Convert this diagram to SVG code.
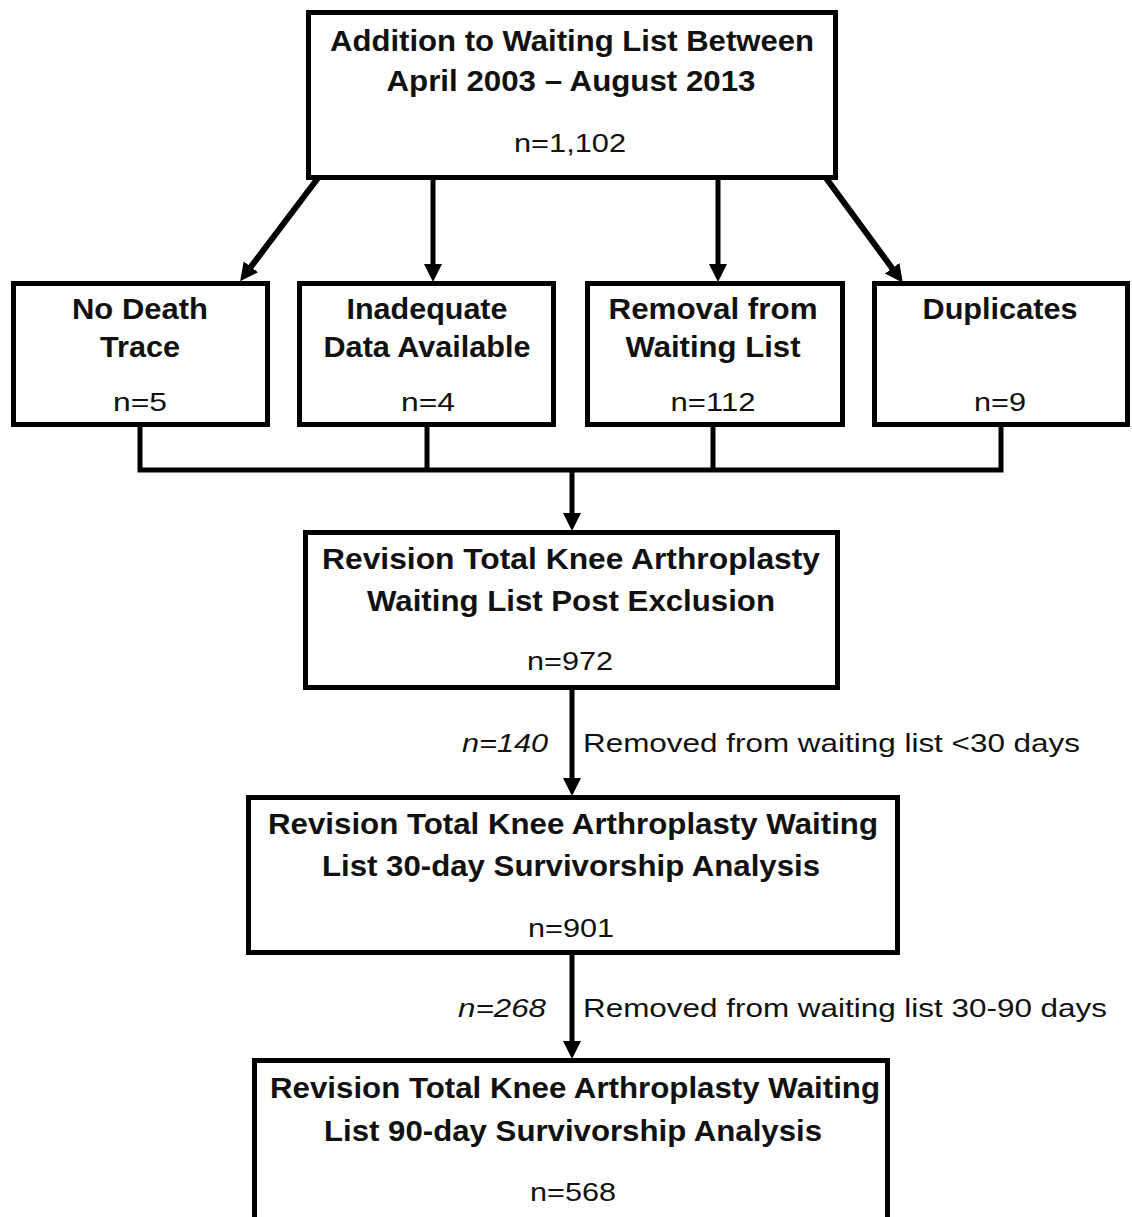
<svg xmlns="http://www.w3.org/2000/svg" width="1132" height="1217" viewBox="0 0 1132 1217">
  <style>
    .box { fill: #ffffff; stroke: #000000; stroke-width: 5; }
    .conn { fill: none; stroke: #000000; stroke-width: 5; stroke-linejoin: miter; }
    .diag { stroke-width: 6; }
    .b { font-family: "Liberation Sans", Arial, sans-serif; font-weight: bold; font-size: 29px; fill: #111111; text-anchor: middle; }
    .r { font-family: "Liberation Sans", Arial, sans-serif; font-size: 26px; fill: #111111; text-anchor: middle; }
    .lbl { font-family: "Liberation Sans", Arial, sans-serif; font-size: 26px; fill: #111111; }
    .it { font-family: "Liberation Sans", Arial, sans-serif; font-size: 26px; font-style: italic; fill: #111111; text-anchor: end; }
  </style>
  <defs>
    <marker id="arrow" markerUnits="userSpaceOnUse" markerWidth="20" markerHeight="20" refX="9" refY="9" orient="auto">
      <path d="M0,0 L18,9 L0,18 z" fill="#000000"/>
    </marker>
  </defs>
  <rect x="0" y="0" width="1132" height="1217" fill="#ffffff"/>

  <g id="connectors">
    <line class="conn diag" x1="318" y1="178" x2="245.5" y2="274" marker-end="url(#arrow)"/>
    <line class="conn" x1="433" y1="178" x2="433" y2="273" marker-end="url(#arrow)"/>
    <line class="conn" x1="718" y1="178" x2="718" y2="273" marker-end="url(#arrow)"/>
    <line class="conn diag" x1="826" y1="178" x2="897.5" y2="275.5" marker-end="url(#arrow)"/>
    <path class="conn" d="M140,425 V470 H1001 V425 M427,425 V470 M713,425 V470"/>
    <line class="conn" x1="572" y1="470" x2="572" y2="522" marker-end="url(#arrow)"/>
    <line class="conn" x1="572" y1="688" x2="572" y2="787" marker-end="url(#arrow)"/>
    <line class="conn" x1="572" y1="953" x2="572" y2="1050" marker-end="url(#arrow)"/>
    <text class="it" x="548" y="752" textLength="86" lengthAdjust="spacingAndGlyphs">n=140</text>
    <text class="lbl" x="583" y="752" textLength="497" lengthAdjust="spacingAndGlyphs">Removed from waiting list &lt;30 days</text>
    <text class="it" x="546" y="1017" textLength="88" lengthAdjust="spacingAndGlyphs">n=268</text>
    <text class="lbl" x="583" y="1017" textLength="524" lengthAdjust="spacingAndGlyphs">Removed from waiting list 30-90 days</text>
  </g>

  <g id="node-addition">
    <rect class="box" x="308.5" y="12.5" width="527" height="165"/>
    <text class="b" x="572" y="51" textLength="484" lengthAdjust="spacingAndGlyphs">Addition to Waiting List Between</text>
    <text class="b" x="571" y="91" textLength="369" lengthAdjust="spacingAndGlyphs">April 2003 – August 2013</text>
    <text class="r" x="570" y="152" textLength="112" lengthAdjust="spacingAndGlyphs">n=1,102</text>
  </g>

  <g id="node-no-death">
    <rect class="box" x="13.5" y="283.5" width="254" height="141"/>
    <text class="b" x="140" y="319" textLength="136" lengthAdjust="spacingAndGlyphs">No Death</text>
    <text class="b" x="140" y="357" textLength="80" lengthAdjust="spacingAndGlyphs">Trace</text>
    <text class="r" x="140" y="411" textLength="54" lengthAdjust="spacingAndGlyphs">n=5</text>
  </g>

  <g id="node-inadequate">
    <rect class="box" x="299.5" y="283.5" width="254" height="141"/>
    <text class="b" x="427" y="319" textLength="161" lengthAdjust="spacingAndGlyphs">Inadequate</text>
    <text class="b" x="427" y="357" textLength="207" lengthAdjust="spacingAndGlyphs">Data Available</text>
    <text class="r" x="428" y="411" textLength="54" lengthAdjust="spacingAndGlyphs">n=4</text>
  </g>

  <g id="node-removal">
    <rect class="box" x="587.5" y="283.5" width="255" height="141"/>
    <text class="b" x="713" y="319" textLength="209" lengthAdjust="spacingAndGlyphs">Removal from</text>
    <text class="b" x="713" y="357" textLength="175" lengthAdjust="spacingAndGlyphs">Waiting List</text>
    <text class="r" x="713" y="411" textLength="85" lengthAdjust="spacingAndGlyphs">n=112</text>
  </g>

  <g id="node-duplicates">
    <rect class="box" x="874.5" y="283.5" width="253" height="141"/>
    <text class="b" x="1000" y="319" textLength="155" lengthAdjust="spacingAndGlyphs">Duplicates</text>
    <text class="r" x="1000" y="411" textLength="52" lengthAdjust="spacingAndGlyphs">n=9</text>
  </g>

  <g id="node-post-exclusion">
    <rect class="box" x="305.5" y="532.5" width="532" height="155"/>
    <text class="b" x="571" y="569" textLength="498" lengthAdjust="spacingAndGlyphs">Revision Total  Knee Arthroplasty</text>
    <text class="b" x="571" y="611" textLength="408" lengthAdjust="spacingAndGlyphs">Waiting List Post Exclusion</text>
    <text class="r" x="570" y="670" textLength="86" lengthAdjust="spacingAndGlyphs">n=972</text>
  </g>

  <g id="node-30day">
    <rect class="box" x="248.5" y="797.5" width="649" height="155"/>
    <text class="b" x="573" y="834" textLength="610" lengthAdjust="spacingAndGlyphs">Revision Total Knee Arthroplasty Waiting</text>
    <text class="b" x="571" y="876" textLength="498" lengthAdjust="spacingAndGlyphs">List 30-day Survivorship Analysis</text>
    <text class="r" x="571" y="937" textLength="86" lengthAdjust="spacingAndGlyphs">n=901</text>
  </g>

  <g id="node-90day">
    <rect class="box" x="254.5" y="1060.5" width="633" height="175"/>
    <text class="b" x="575" y="1098" textLength="610" lengthAdjust="spacingAndGlyphs">Revision Total Knee Arthroplasty Waiting</text>
    <text class="b" x="573" y="1141" textLength="498" lengthAdjust="spacingAndGlyphs">List 90-day Survivorship Analysis</text>
    <text class="r" x="573" y="1201" textLength="86" lengthAdjust="spacingAndGlyphs">n=568</text>
  </g>
</svg>
